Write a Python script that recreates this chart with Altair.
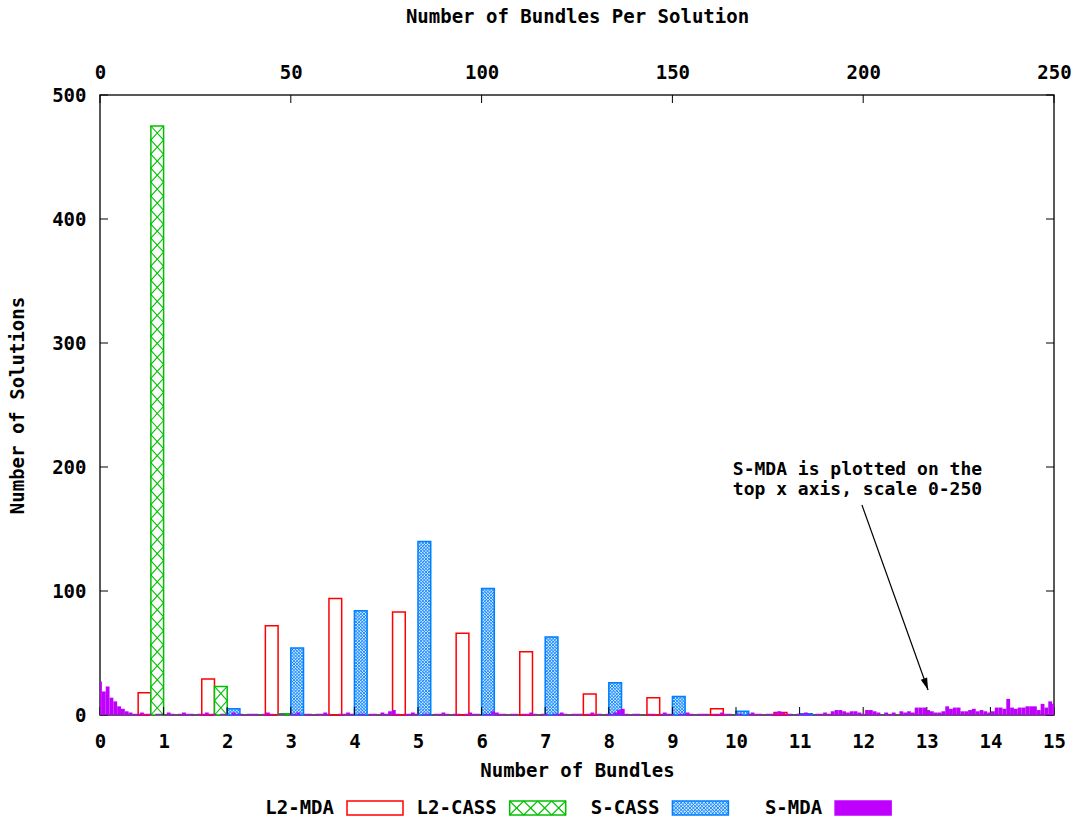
import altair as alt
import pandas as pd

# ---- solutions per number of bundles (bottom axis, 1..11) ----
bundles = [1, 2, 3, 4, 5, 6, 7, 8, 9, 10, 11]
l2_mda = [18, 29, 72, 94, 83, 66, 51, 17, 14, 5, 2]
l2_cass = [475, 23, 1, 0, 0, 0, 0, 0, 0, 0, 0]
s_cass = [0, 5, 54, 84, 140, 102, 63, 26, 15, 3, 1]

# ---- S-MDA solutions per number of bundles (top axis, 0..250) ----
s_mda_bundles = list(range(251))
s_mda = [
    27, 19, 23, 14, 11, 7, 5, 3, 2, 1,
    1, 2, 1, 1, 0, 1, 1, 0, 2, 1,
    0, 1, 2, 1, 1, 0, 1, 1, 2, 1,
    1, 0, 1, 1, 0, 2, 1, 1, 0, 1,
    1, 1, 0, 1, 2, 1, 0, 1, 1, 0,
    1, 1, 2, 0, 1, 1, 0, 1, 1, 2,
    1, 0, 0, 1, 1, 2, 1, 0, 1, 1,
    0, 1, 1, 0, 2, 1, 3, 4, 1, 0,
    1, 1, 2, 1, 0, 1, 1, 0, 1, 1,
    2, 1, 0, 1, 1, 0, 1, 2, 1, 1,
    0, 1, 1, 3, 2, 1, 1, 0, 1, 1,
    0, 1, 1, 2, 1, 0, 1, 1, 0, 1,
    1, 2, 1, 0, 1, 1, 1, 0, 1, 2,
    1, 1, 0, 1, 1, 2, 4, 5, 1, 0,
    1, 1, 0, 0, 1, 1, 0, 1, 2, 1,
    1, 0, 1, 1, 2, 1, 0, 1, 1, 1,
    0, 1, 1, 2, 1, 1, 0, 1, 1, 0,
    1, 2, 1, 1, 0, 1, 1, 2, 3, 2,
    1, 1, 0, 1, 1, 2, 1, 0, 1, 1,
    2, 1, 3, 4, 4, 3, 2, 3, 3, 2,
    1, 4, 4, 3, 2, 0, 2, 1, 2, 0,
    3, 2, 3, 2, 6, 6, 6, 4, 3, 2,
    2, 3, 7, 5, 6, 6, 3, 3, 4, 5,
    3, 4, 3, 2, 3, 6, 6, 5, 13, 6,
    5, 6, 6, 7, 7, 7, 4, 9, 6, 11,
    9,
]

series_names = ["L2-MDA", "L2-CASS", "S-CASS", "S-MDA"]
series_colors = ["#ff0000", "#00c000", "#0080ff", "#c000ff"]
legend_fills = ["white", "white", "#cfe5ff", "#c000ff"]

bottom_ticks = list(range(16))
top_ticks = [0, 50, 100, 150, 200, 250]
y_ticks = [0, 100, 200, 300, 400, 500]

note_lines = ["S-MDA is plotted on the", "top x axis, scale 0-250"]
note_x, note_y = 9.95, 197.5
arrow_from = (11.98, 169.4)
arrow_to = (13.02, 20.2)

# ---- layout ----
W, H = 954, 620
X_MAX, X2_MAX, Y_MAX = 15, 250, 500
FONT = "DejaVu Sans Mono"
FS = 19
TICK_LEN = 8
BAR_W = 0.2
offsets = {"L2-MDA": -0.4, "L2-CASS": -0.2, "S-CASS": 0.0}
px_per_count = H / Y_MAX

rows = []
for name, vals in zip(series_names[:3], [l2_mda, l2_cass, s_cass]):
    for b, v in zip(bundles, vals):
        if v > 0:
            x0 = b + offsets[name]
            rows.append({"series": name, "bundles": b, "count": v,
                         "x0": x0, "x1": x0 + BAR_W, "zero": 0})
bars = pd.DataFrame(rows)

mda = pd.DataFrame({"bundles": s_mda_bundles, "count": s_mda})
mda["u0"] = mda["bundles"] - 0.5
mda["u1"] = mda["bundles"] + 0.5
mda["zero"] = 0


def cross_cells(x0, x1, y0, y1, ncols, nrows, **extra):
    """Diagonal cross-hatch segments filling a rectangle."""
    out = []
    w = (x1 - x0) / ncols
    h = (y1 - y0) / nrows
    for i in range(ncols):
        for j in range(nrows):
            a, b = x0 + i * w, x0 + (i + 1) * w
            c, d = y0 + j * h, y0 + (j + 1) * h
            out.append({"x": a, "x2": b, "y": c, "y2": d, **extra})
            out.append({"x": a, "x2": b, "y": d, "y2": c, **extra})
    return out


green_hatch = []
for r in bars[bars.series == "L2-CASS"].itertuples():
    n = max(1, round(r.count * px_per_count / 14))
    green_hatch += cross_cells(r.x0, r.x1, 0, r.count, 1, n)
green_hatch = pd.DataFrame(green_hatch)

blue_hatch = []
for r in bars[bars.series == "S-CASS"].itertuples():
    n = max(1, round(r.count * px_per_count / 3.2))
    blue_hatch += cross_cells(r.x0, r.x1, 0, r.count, 4, n)
blue_hatch = pd.DataFrame(blue_hatch)


# every layer owns its scales; the data layers all use the same domains
def xb():
    return alt.Scale(domain=[0, X_MAX], nice=False, zero=False)


def xt():
    return alt.Scale(domain=[0, X2_MAX], nice=False, zero=False)


def yb():
    return alt.Scale(domain=[0, Y_MAX], nice=False, zero=False)


def px_x():
    return alt.Scale(domain=[0, W], nice=False, zero=False)


def px_y():
    return alt.Scale(domain=[0, H], nice=False, zero=False, reverse=True)


x_axis = alt.Axis(orient="bottom", values=bottom_ticks, ticks=False, domain=False,
                  grid=False, labelFlush=False, labelOverlap=False, labelPadding=17,
                  title="Number of Bundles", titlePadding=10)
y_axis = alt.Axis(orient="left", values=y_ticks, ticks=False, domain=False,
                  grid=False, labelFlush=False, labelOverlap=False, labelPadding=14,
                  title="Number of Solutions", titlePadding=24)
x2_axis = alt.Axis(orient="top", values=top_ticks, ticks=False, domain=False,
                   grid=False, labelFlush=False, labelOverlap=False, labelPadding=13,
                   title="Number of Bundles Per Solution", titlePadding=37)

base = alt.Chart(bars)

red = base.transform_filter(alt.datum.series == "L2-MDA").mark_rect(
    fill="white", fillOpacity=0, stroke=series_colors[0], strokeWidth=1.5
).encode(
    x=alt.X("x0:Q", scale=xb(), axis=x_axis),
    x2="x1:Q",
    y=alt.Y("count:Q", scale=yb(), axis=y_axis),
    y2="zero:Q",
)

green = base.transform_filter(alt.datum.series == "L2-CASS").mark_rect(
    fill="white", stroke=series_colors[1], strokeWidth=1.5
).encode(
    x=alt.X("x0:Q", scale=xb(), axis=None), x2="x1:Q",
    y=alt.Y("count:Q", scale=yb(), axis=None), y2="zero:Q",
)

green_lines = alt.Chart(green_hatch).mark_rule(
    color=series_colors[1], strokeWidth=1.1
).encode(
    x=alt.X("x:Q", scale=xb(), axis=None), x2="x2:Q",
    y=alt.Y("y:Q", scale=yb(), axis=None), y2="y2:Q",
)

blue = base.transform_filter(alt.datum.series == "S-CASS").mark_rect(
    fill=legend_fills[2], stroke=series_colors[2], strokeWidth=1.5
).encode(
    x=alt.X("x0:Q", scale=xb(), axis=None), x2="x1:Q",
    y=alt.Y("count:Q", scale=yb(), axis=None), y2="zero:Q",
)

blue_lines = alt.Chart(blue_hatch).mark_rule(
    color=series_colors[2], strokeWidth=0.9
).encode(
    x=alt.X("x:Q", scale=xb(), axis=None), x2="x2:Q",
    y=alt.Y("y:Q", scale=yb(), axis=None), y2="y2:Q",
)

bottom_tick_marks = alt.Chart(pd.DataFrame({"t": bottom_ticks})).mark_rule(
    color="black", strokeWidth=1
).encode(x=alt.X("t:Q", scale=xb(), axis=None), y=alt.value(H), y2=alt.value(H - TICK_LEN))

ydf = pd.DataFrame({"t": y_ticks})
left_tick_marks = alt.Chart(ydf).mark_rule(color="black", strokeWidth=1).encode(
    y=alt.Y("t:Q", scale=yb(), axis=None), x=alt.value(0), x2=alt.value(TICK_LEN))
right_tick_marks = alt.Chart(ydf).mark_rule(color="black", strokeWidth=1).encode(
    y=alt.Y("t:Q", scale=yb(), axis=None), x=alt.value(W - TICK_LEN), x2=alt.value(W))

note = alt.Chart(pd.DataFrame({"x": [note_x], "y": [note_y]})).mark_text(
    text=note_lines, align="left", baseline="middle", lineHeight=20,
    font=FONT, fontSize=18, fontWeight="bold", color="black"
).encode(x=alt.X("x:Q", scale=xb(), axis=None), y=alt.Y("y:Q", scale=yb(), axis=None))

arrow_df = pd.DataFrame({"x": [arrow_from[0]], "y": [arrow_from[1]],
                         "x2": [arrow_to[0]], "y2": [arrow_to[1]]})
arrow_line = alt.Chart(arrow_df).mark_rule(color="black", strokeWidth=1.2).encode(
    x=alt.X("x:Q", scale=xb(), axis=None), x2="x2:Q",
    y=alt.Y("y:Q", scale=yb(), axis=None), y2="y2:Q")
arrow_head = alt.Chart(arrow_df).mark_point(
    shape="M0,0L-0.45,-1.6L0.45,-1.6Z", filled=True, color="black",
    size=225, angle=340, opacity=1
).encode(x=alt.X("x2:Q", scale=xb(), axis=None), y=alt.Y("y2:Q", scale=yb(), axis=None))

purple = alt.Chart(mda).mark_rect(color=series_colors[3], clip=True).encode(
    x=alt.X("u0:Q", scale=xt(), axis=x2_axis),
    x2="u1:Q",
    y=alt.Y("count:Q", scale=yb(), axis=None),
    y2="zero:Q",
)
top_tick_marks = alt.Chart(pd.DataFrame({"t": top_ticks})).mark_rule(
    color="black", strokeWidth=1
).encode(x=alt.X("t:Q", scale=xt(), axis=None), y=alt.value(0), y2=alt.value(TICK_LEN))

# ---- key below the plot: label on the left, sample box on the right ----
LEG_X0, LEG_DX, LEG_W = 247, 162.7, 56
LEG_Y0, LEG_Y1 = 706, 720
leg = pd.DataFrame({"series": series_names, "color": series_colors, "fill": legend_fills})
leg["sx0"] = [LEG_X0 + i * LEG_DX for i in range(len(leg))]
leg["sx1"] = leg["sx0"] + LEG_W
leg["lx"] = leg["sx0"] - 13
leg["sy0"] = LEG_Y0
leg["sy1"] = LEG_Y1
leg["ly"] = (LEG_Y0 + LEG_Y1) / 2

leg_hatch = []
for r in leg.itertuples():
    if r.series == "L2-CASS":
        leg_hatch += cross_cells(r.sx0, r.sx1, r.sy0, r.sy1, 4, 1, color=r.color, w=1.1)
    elif r.series == "S-CASS":
        leg_hatch += cross_cells(r.sx0, r.sx1, r.sy0, r.sy1, 16, 4, color=r.color, w=0.9)
leg_hatch = pd.DataFrame(leg_hatch)

leg_box = alt.Chart(leg).mark_rect(strokeWidth=1.5).encode(
    x=alt.X("sx0:Q", scale=px_x(), axis=None), x2="sx1:Q",
    y=alt.Y("sy0:Q", scale=px_y(), axis=None), y2="sy1:Q",
    fill=alt.Fill("fill:N", scale=None),
    stroke=alt.Stroke("color:N", scale=None),
)
leg_lines = alt.Chart(leg_hatch).mark_rule().encode(
    x=alt.X("x:Q", scale=px_x(), axis=None), x2="x2:Q",
    y=alt.Y("y:Q", scale=px_y(), axis=None), y2="y2:Q",
    color=alt.Color("color:N", scale=None),
    strokeWidth=alt.StrokeWidth("w:Q", scale=None),
)
leg_text = alt.Chart(leg).mark_text(
    align="right", baseline="middle", font=FONT, fontSize=FS, fontWeight="bold", color="black"
).encode(
    x=alt.X("lx:Q", scale=px_x(), axis=None),
    y=alt.Y("ly:Q", scale=px_y(), axis=None),
    text="series:N",
)

chart = alt.layer(
    red, green, green_lines, blue, blue_lines,
    bottom_tick_marks, left_tick_marks, right_tick_marks,
    note, arrow_line, arrow_head,
    purple, top_tick_marks,
    leg_box, leg_lines, leg_text,
).resolve_scale(
    x="independent", y="independent"
).properties(
    width=W, height=H,
    padding={"left": 8, "top": 7, "right": 5, "bottom": 5},
    background="white",
).configure_view(
    stroke="#222222", strokeWidth=1.5
).configure_axis(
    labelFont=FONT, labelFontSize=FS, labelFontWeight="bold", labelColor="black",
    titleFont=FONT, titleFontSize=FS, titleFontWeight="bold", titleColor="black",
)

chart.save("out.html", embed_options={"renderer": "svg", "actions": False})
